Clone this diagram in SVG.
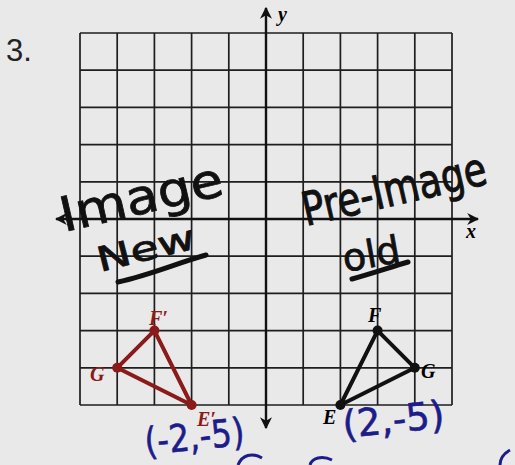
<svg xmlns="http://www.w3.org/2000/svg" width="515" height="465" viewBox="0 0 515 465">
<defs>
<style>
.grid{stroke:#1e1e1e;stroke-width:1.7;fill:none}
.axis{stroke:#111;stroke-width:2.4;fill:none}
.lbl{font-family:"Liberation Serif",serif;font-weight:bold;font-style:italic;font-size:20px}
.hand{font-family:"DejaVu Sans",sans-serif;fill:#111;stroke:#111;stroke-width:0.8}
.blue{font-family:"DejaVu Sans",sans-serif;fill:#1c1c8a;stroke:#1c1c8a;stroke-width:0.6}
.tri{stroke-width:4;fill:none;stroke-linejoin:round}
</style>
<marker id="ah" viewBox="0 0 10 10" refX="9" refY="5" markerWidth="5" markerHeight="5" orient="auto-start-reverse" markerUnits="strokeWidth">
<path d="M0,0 L10,5 L0,10 L3,5 Z" fill="#111"/>
</marker>
</defs>
<rect width="515" height="465" fill="#e9e9e9"/>
<text x="6" y="61" font-family="Liberation Sans,sans-serif" font-size="31" fill="#222">3.</text>
<g id="grid" class="grid">
<path d="M80,33V405 M117.2,33V405 M154.4,33V405 M191.6,33V405 M228.8,33V405 M303.2,33V405 M340.4,33V405 M377.6,33V405 M414.8,33V405 M452,33V405"/>
<path d="M80,33H452 M80,70.2H452 M80,107.4H452 M80,144.6H452 M80,181.8H452 M80,256.2H452 M80,293.4H452 M80,330.6H452 M80,367.8H452 M80,405H452"/>
</g>
<g id="connectors">
<line class="axis" x1="56" y1="219" x2="478" y2="219" marker-start="url(#ah)" marker-end="url(#ah)"/>
<line class="axis" x1="266" y1="8" x2="266" y2="428" marker-start="url(#ah)" marker-end="url(#ah)"/>
</g>
<text x="278" y="21" class="lbl" font-size="17">y</text>
<text x="466" y="238" class="lbl" font-size="17">x</text>
<g id="preimage">
<path class="tri" stroke="#111" d="M340.4,405 L377.6,330.6 L414.8,367.8 Z"/>
<circle cx="340.4" cy="405" r="5" fill="#111"/>
<circle cx="377.6" cy="330.6" r="5" fill="#111"/>
<circle cx="414.8" cy="367.8" r="5" fill="#111"/>
<text x="368" y="322" class="lbl">F</text>
<text x="421" y="378" class="lbl">G</text>
<text x="323" y="424" class="lbl">E</text>
</g>
<g id="image">
<path class="tri" stroke="#8b1a1a" d="M191.6,405 L154.4,330.6 L117.2,367.8 Z"/>
<circle cx="191.6" cy="405" r="5" fill="#8b1a1a"/>
<circle cx="154.4" cy="330.6" r="5" fill="#8b1a1a"/>
<circle cx="117.2" cy="367.8" r="5" fill="#8b1a1a"/>
<text x="149" y="325" class="lbl" fill="#8b1a1a">F′</text>
<text x="90" y="381" class="lbl" fill="#8b1a1a">G</text>
<text x="197" y="426" class="lbl" fill="#8b1a1a">E′</text>
</g>
<g id="notes">
<text class="hand" x="64" y="232" font-size="48" textLength="166" lengthAdjust="spacingAndGlyphs" transform="rotate(-13 64 232)">Image</text>
<text class="hand" x="100" y="272" font-size="34" textLength="100" lengthAdjust="spacingAndGlyphs" transform="rotate(-14 100 272)">New</text>
<path d="M118,282 C150,275 180,262 206,255" stroke="#111" stroke-width="5" fill="none" stroke-linecap="round"/>
<text class="hand" x="306" y="226" font-size="37" transform="rotate(-13 306 226) translate(306 226) scale(1 1.25) translate(-306 -226)">Pre-Image</text>
<text class="hand" x="345" y="272" font-size="38" textLength="58" lengthAdjust="spacingAndGlyphs" transform="rotate(-10 345 272)">old</text>
<path d="M352,279 C370,274 388,268 408,262" stroke="#111" stroke-width="5" fill="none" stroke-linecap="round"/>
<text class="blue" x="146" y="455" font-size="38" textLength="100" lengthAdjust="spacingAndGlyphs" transform="rotate(-6 146 455)">(-2,-5)</text>
<text class="blue" x="344" y="438" font-size="38" textLength="102" lengthAdjust="spacingAndGlyphs" transform="rotate(-6 344 438)">(2,-5)</text>
<path d="M238,465 C242,455 252,452 262,458" stroke="#1c1c8a" stroke-width="3" fill="none"/>
<path d="M310,465 C312,458 322,455 332,460" stroke="#1c1c8a" stroke-width="3" fill="none"/>
<path d="M510,450 C503,454 500,460 500,465" stroke="#1c1c8a" stroke-width="3" fill="none"/>
</g>
</svg>
